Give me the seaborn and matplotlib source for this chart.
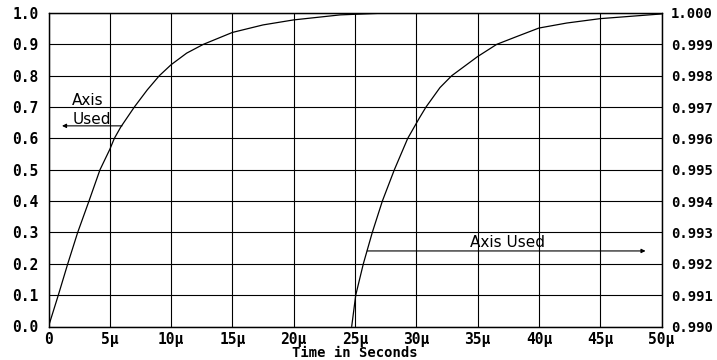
import numpy as np
import pandas as pd
import matplotlib
matplotlib.use("Agg")
import matplotlib.pyplot as plt
from matplotlib.font_manager import FontProperties
import seaborn as sns

# ---- data (time in microseconds) ----
t_left = [0, 0.8, 1.57, 2.38, 3.3, 4.2, 5.0, 5.37, 5.89, 7.0, 8.06, 9.04, 10.0,
          11.27, 12.63, 15.0, 17.5, 20.0, 23.8, 27.6, 33.3]
v_left = [0.0, 0.1, 0.2, 0.3, 0.4, 0.5, 0.565, 0.6, 0.636, 0.7, 0.755, 0.8,
          0.835, 0.872, 0.9, 0.938, 0.962, 0.978, 0.994, 1.0, 1.0]

t_right = [24.73, 25.06, 25.68, 26.41, 27.23, 28.21, 29.3, 30.25, 30.79, 31.93,
           32.89, 35.0, 36.56, 38.2, 40.0, 42.27, 45.0, 50.0]
v_right = [0.9900, 0.9910, 0.9920, 0.9930, 0.9940, 0.9950, 0.9960, 0.99665,
           0.9970, 0.99762, 0.9980, 0.99861, 0.9990, 0.99925, 0.99952, 0.99968,
           0.99982, 0.99997]

x_ticks = [0, 5, 10, 15, 20, 25, 30, 35, 40, 45, 50]
x_labels = ["0", "5µ", "10µ", "15µ", "20µ", "25µ", "30µ", "35µ", "40µ", "45µ", "50µ"]
y_left_ticks = [0.0, 0.1, 0.2, 0.3, 0.4, 0.5, 0.6, 0.7, 0.8, 0.9, 1.0]
y_right_ticks = [0.990, 0.991, 0.992, 0.993, 0.994, 0.995, 0.996, 0.997, 0.998, 0.999, 1.000]
x_title = "Time in Seconds"

sns.set_theme(style="white")
plt.rcParams["font.family"] = ["DejaVu Sans Mono", "DejaVu Sans"]

fig = plt.figure(figsize=(7.17, 3.6), dpi=100)
ax = fig.add_axes([48.5 / 717, 33.5 / 360, (661.5 - 48.5) / 717, (326.5 - 13) / 360])
ax2 = ax.twinx()

df1 = pd.DataFrame({"t": t_left, "v": v_left})
df2 = pd.DataFrame({"t": t_right, "v": v_right})
sns.lineplot(data=df1, x="t", y="v", ax=ax, color="black", lw=0.9, sort=False)
sns.lineplot(data=df2, x="t", y="v", ax=ax2, color="black", lw=0.9, sort=False)

ax.set_xlim(0, 50)
ax.set_ylim(0, 1.0)
ax2.set_ylim(0.990, 1.000)

ax.set_xticks(x_ticks)
ax.set_xticklabels(x_labels)
ax.set_yticks(y_left_ticks)
ax.set_yticklabels([f"{v:.1f}" for v in y_left_ticks])
ax2.set_yticks(y_right_ticks)
ax2.set_yticklabels([f"{v:.3f}" for v in y_right_ticks])

left_font = FontProperties(family="DejaVu Sans Mono", weight="bold", size=10.5)
right_font = FontProperties(family="DejaVu Sans Mono", weight="bold", size=10)
for lab in ax.get_xticklabels() + ax.get_yticklabels():
    lab.set_fontproperties(left_font)
    lab.set_color("black")
for lab in ax2.get_yticklabels():
    lab.set_fontproperties(right_font)
    lab.set_color("black")

ax.tick_params(axis="both", length=0, pad=7)
ax2.tick_params(axis="y", length=0, pad=7)
ax.tick_params(axis="x", pad=4)

ax.grid(True, color="black", lw=0.8)
ax.set_axisbelow(True)
for a in (ax, ax2):
    for s in a.spines.values():
        s.set_color("black")
        s.set_linewidth(0.9)

ax.set_xlabel(x_title, fontfamily="DejaVu Sans Mono", fontweight="bold",
              fontsize=10, color="black", labelpad=-1)
ax.set_ylabel("")
ax2.set_ylabel("")

# annotations
ann_font = dict(family="DejaVu Sans", size=11, color="black")
ax.text(1.92, 0.707, "Axis", ha="left", va="baseline", **ann_font)
ax.text(1.98, 0.646, "Used", ha="left", va="baseline", **ann_font)
ax.annotate("", xy=(1.1, 0.64), xytext=(6.0, 0.64),
            arrowprops=dict(arrowstyle="-|>", lw=0.8, color="black",
                            mutation_scale=6, shrinkA=0, shrinkB=0))
ax.text(34.4, 0.254, "Axis Used", ha="left", va="baseline", **ann_font)
ax.annotate("", xy=(48.7, 0.241), xytext=(26.0, 0.241),
            arrowprops=dict(arrowstyle="-|>", lw=0.8, color="black",
                            mutation_scale=6, shrinkA=0, shrinkB=0))

fig.savefig("out.png", dpi=100, facecolor="white")
